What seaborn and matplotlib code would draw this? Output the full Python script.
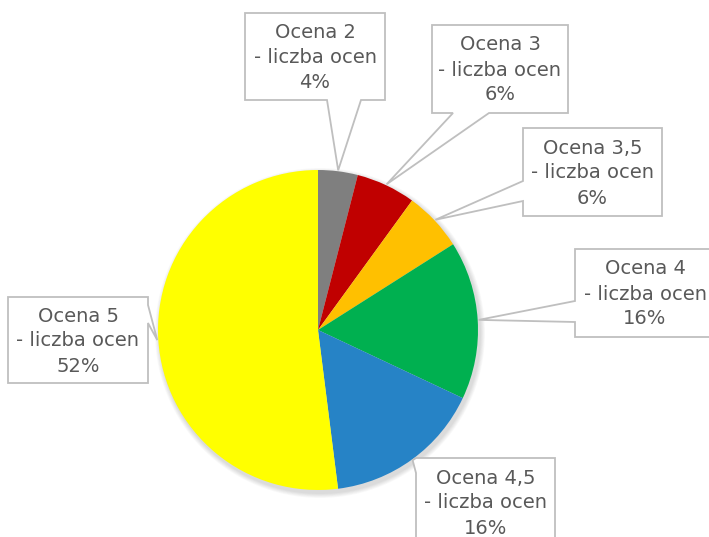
import numpy as np
import seaborn as sns
import matplotlib.pyplot as plt
from matplotlib.patches import Polygon, Circle

# data
labels = ['Ocena 2', 'Ocena 3', 'Ocena 3,5', 'Ocena 4', 'Ocena 4,5', 'Ocena 5']
values = [4, 6, 6, 16, 16, 52]
series_name = '- liczba ocen'
colors = ['#7F7F7F', '#C00000', '#FFC000', '#00B050', '#2683C6', '#FFFF00']

# callout boxes (image pixels: x0, y0, x1, y1), side of the pointer and its base
boxes = [
    ((245, 13, 385, 100), 'bottom', (327, 361)),
    ((432, 25, 568, 113), 'bottom', (453, 489)),
    ((523, 128, 662, 216), 'left', (181, 201)),
    ((575, 249, 715, 337), 'left', (301, 322)),
    ((416, 458, 555, 546), 'left', (458, 473)),
    ((8, 297, 148, 383), 'right', (305, 323)),
]

W, H = 709, 537
cx, cy, R = 318, 330, 160

sns.set_theme(style='white')
plt.rcParams['font.family'] = ['DejaVu Sans']

fig = plt.figure(figsize=(W / 100, H / 100), dpi=100)
ax = fig.add_axes([0, 0, 1, 1])

# soft shadow under the pie
for k in range(6):
    ax.add_patch(Circle((cx + 2, H - cy - 3), R + 1 + k * 0.8, color='black',
                        alpha=0.025, lw=0, zorder=0))

wedges, _ = ax.pie(values, colors=colors, startangle=90, counterclock=False,
                   center=(cx, H - cy), radius=R,
                   wedgeprops=dict(linewidth=0, zorder=1))


def callout(box, side, base, tip):
    x0, y0, x1, y1 = box
    a, b = base
    pts = [(x0, y0)]
    if side == 'top':
        pts += [(a, y0), tip, (b, y0)]
    pts.append((x1, y0))
    if side == 'right':
        pts += [(x1, a), tip, (x1, b)]
    pts.append((x1, y1))
    if side == 'bottom':
        pts += [(b, y1), tip, (a, y1)]
    pts.append((x0, y1))
    if side == 'left':
        pts += [(x0, b), tip, (x0, a)]
    return [(x, H - y) for x, y in pts]


total = sum(values)
for w, lab, v, (box, side, base) in zip(wedges, labels, values, boxes):
    mid = np.deg2rad((w.theta1 + w.theta2) / 2)
    tip = (cx + (R + 1) * np.cos(mid), cy - (R + 1) * np.sin(mid))
    poly = Polygon(callout(box, side, base, tip), closed=True, facecolor='white',
                   edgecolor='#BFBFBF', lw=1.3, zorder=3)
    ax.add_patch(poly)
    x0, y0, x1, y1 = box
    pct = round(v / total * 100)
    ax.text((x0 + x1) / 2, H - (y0 + y1) / 2 - 1, f'{lab}\n{series_name}\n{pct}%',
            ha='center', va='center', fontsize=14, color='#595959',
            linespacing=1.4, zorder=4)

ax.set_xlim(0, W)
ax.set_ylim(0, H)
ax.set_aspect('equal')
ax.axis('off')

fig.savefig('out.png', dpi=100)
